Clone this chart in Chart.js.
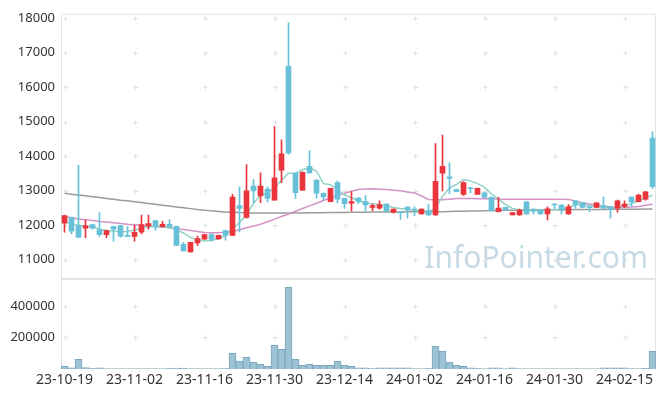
<!DOCTYPE html>
<html>
<head>
<meta charset="utf-8">
<script src="https://cdn.jsdelivr.net/npm/chart.js@4.4.1/dist/chart.umd.min.js"></script>
<style>
  html, body { margin: 0; padding: 0; background: #fff; }
  #wrap { position: relative; width: 665px; height: 397px; }
  #wrap canvas { position: absolute; left: 0; top: 0; }
</style>
</head>
<body>
<div id="wrap">
  <canvas id="price" width="665" height="397"></canvas>
  <canvas id="volume" width="665" height="397"></canvas>
</div>
<script>
const dates = [
  "23-10-19","23-10-20","23-10-23","23-10-24","23-10-25","23-10-26","23-10-27","23-10-30","23-10-31","23-11-01",
  "23-11-02","23-11-03","23-11-06","23-11-07","23-11-08","23-11-09","23-11-10","23-11-13","23-11-14","23-11-15",
  "23-11-16","23-11-17","23-11-20","23-11-21","23-11-22","23-11-23","23-11-24","23-11-27","23-11-28","23-11-29",
  "23-11-30","23-12-01","23-12-04","23-12-05","23-12-06","23-12-07","23-12-08","23-12-11","23-12-12","23-12-13",
  "23-12-14","23-12-15","23-12-18","23-12-19","23-12-20","23-12-21","23-12-22","23-12-26","23-12-27","23-12-28",
  "24-01-02","24-01-03","24-01-04","24-01-05","24-01-08","24-01-09","24-01-10","24-01-11","24-01-12","24-01-15",
  "24-01-16","24-01-17","24-01-18","24-01-19","24-01-22","24-01-23","24-01-24","24-01-25","24-01-26","24-01-29",
  "24-01-30","24-01-31","24-02-01","24-02-02","24-02-05","24-02-06","24-02-07","24-02-08","24-02-13","24-02-14",
  "24-02-15","24-02-16","24-02-19","24-02-20","24-02-21"
];

const opens = [
  12050,12220,11980,11910,12010,11860,11720,11955,11980,11690,
  11670,11790,11975,12130,11950,12020,11960,11440,11220,11480,
  11590,11725,11600,11840,11700,12560,12220,13130,12845,13040,
  12720,13590,16600,13500,13010,13700,13300,12920,12680,13230,
  12770,12635,12780,12680,12510,12490,12610,12370,12380,12520,
  12460,12320,12410,12290,13500,13400,13030,12890,13080,12890,
  12930,12800,12390,12510,12290,12290,12670,12460,12440,12320,
  12600,12580,12320,12700,12650,12530,12510,12560,12530,12490,
  12540,12810,12680,12750,14520
];
const highs = [
  12280,12230,13730,12150,12030,12360,11850,11960,11990,11955,
  11990,12290,12290,12130,12110,12160,11970,11500,11500,11680,
  11740,11750,11710,11850,12890,13110,13750,13320,13510,13110,
  14850,14470,17860,13510,13540,14150,13320,12930,13070,13280,
  12780,12970,12800,12850,12610,12700,12620,12470,12400,12530,
  12530,12470,12600,14360,14610,13800,13040,13260,13090,13070,
  12940,12810,12800,12520,12360,12460,12680,12470,12450,12530,
  12620,12590,12590,12710,12660,12540,12650,12810,12540,12720,
  12700,12820,12900,12980,14710
];
const lows = [
  11790,11750,11630,11630,11880,11670,11630,11530,11650,11660,
  11530,11745,11880,11850,11940,11920,11400,11240,11210,11410,
  11580,11530,11590,11560,11700,11800,12200,12650,12650,12670,
  12720,13230,14050,12770,13000,13500,12770,12720,12670,12640,
  12480,12410,12620,12400,12415,12460,12370,12340,12160,12200,
  12270,12310,12280,12280,12990,12910,12960,12860,12940,12880,
  12790,12400,12380,12430,12290,12280,12310,12320,12310,12150,
  12480,12320,12310,12490,12500,12390,12500,12470,12200,12370,
  12500,12530,12670,12720,13060
];
const closes = [
  12270,11820,11650,11975,11910,11720,11840,11880,11680,11670,
  11790,12010,12040,11970,12020,11950,11410,11250,11495,11610,
  11725,11580,11700,11700,12810,12480,12990,12990,13130,12770,
  13370,14060,14090,12940,13530,13510,12920,12815,13065,12750,
  12620,12680,12680,12580,12560,12590,12410,12460,12350,12440,
  12435,12460,12290,13270,13700,13350,12970,13230,13050,13060,
  12800,12410,12490,12440,12360,12430,12320,12410,12320,12470,
  12580,12430,12530,12600,12510,12500,12640,12490,12460,12700,
  12610,12670,12870,12960,13110
];

const ma5 = [
  12100,12040,11990,11970,11950,11880,11840,11830,11800,11820,
  11850,11910,11950,11960,11950,11920,11860,11770,11640,11570,
  11535,11550,11610,11700,11880,12070,12300,12620,12880,12930,
  13080,13300,13500,13500,13600,13660,13560,13200,13170,13020,
  12870,12790,12710,12640,12620,12590,12550,12510,12480,12455,
  12430,12410,12390,12490,12830,13070,13180,13320,13280,13200,
  13090,12900,12750,12590,12480,12440,12410,12410,12410,12430,
  12450,12460,12510,12580,12600,12560,12540,12530,12490,12500,
  12550,12620,12700,12780,12870
];
const ma20 = [
  12250,12210,12175,12150,12130,12105,12085,12065,12045,12025,
  12010,11995,11980,11960,11945,11920,11895,11870,11840,11810,
  11780,11775,11775,11790,11810,11860,11920,11970,12020,12095,
  12170,12245,12320,12400,12480,12555,12630,12710,12790,12860,
  12920,12980,13030,13045,13050,13040,13030,13010,12990,12960,
  12930,12840,12740,12730,12730,12750,12770,12770,12770,12765,
  12760,12755,12750,12750,12750,12750,12750,12750,12750,12750,
  12750,12750,12740,12700,12640,12610,12580,12550,12520,12510,
  12510,12520,12540,12570,12600
];
const ma60 = [
  12920,12895,12870,12845,12820,12795,12770,12745,12720,12700,
  12675,12650,12625,12600,12575,12550,12525,12500,12475,12450,
  12430,12410,12395,12380,12370,12360,12355,12350,12350,12350,
  12350,12350,12350,12350,12350,12355,12355,12358,12360,12362,
  12365,12368,12370,12372,12375,12376,12378,12380,12380,12382,
  12383,12384,12385,12386,12388,12392,12396,12400,12404,12408,
  12412,12418,12422,12426,12430,12432,12434,12436,12438,12440,
  12442,12444,12446,12448,12450,12451,12452,12453,12454,12455,
  12456,12458,12460,12462,12464
];

const volumes = [
  19000,8000,61000,9000,2000,7000,1500,1000,1200,1000,
  1500,1000,1200,1000,1500,2000,6000,6000,1500,1000,
  1200,1500,1000,2000,99000,50000,74000,42000,30000,17000,
  150000,125000,517000,61000,23000,30000,23000,23000,23000,49000,
  25000,17000,8000,8000,2000,8000,8000,8000,8000,8000,
  1500,1500,2000,143000,114000,44000,23000,17000,8000,2000,
  1500,8000,8000,1500,8000,1500,1500,1200,1000,1500,
  1200,1000,1500,1200,1000,1500,1200,8000,8000,8000,
  8000,1500,1500,5000,112000
];

const priceTicks = [11000, 12000, 13000, 14000, 15000, 16000, 17000, 18000];
const volumeTicks = [200000, 400000];

const upColor = "#e9353b";
const downColor = "#67c1d8";
const candleColors = closes.map((c, i) => c >= opens[i] ? upColor : downColor);

const tickFont = { family: '"Noto Sans", sans-serif', size: 13 };

// small "+" marks at grid crossings, the panel frame, optional watermark
function framePlugin(withMark) {
  return {
    id: "frame",
    beforeDatasetsDraw(chart) {
      const ctx = chart.ctx;
      const a = chart.chartArea;
      const xs = chart.scales.x, ys = chart.scales.y;
      ctx.save();
      if (withMark) {
        ctx.font = '30px "Noto Sans"';
        ctx.fillStyle = "#c6dae6";
        ctx.textAlign = "right";
        ctx.textBaseline = "alphabetic";
        ctx.fillText("InfoPointer.com", 648, 268);
      }
      ctx.strokeStyle = "#e2e2e2";
      ctx.lineWidth = 1;
      ctx.beginPath();
      for (let i = 0; i < dates.length; i += 10) {
        const cx = Math.round(xs.getPixelForValue(i)) + 0.5;
        ys.ticks.forEach(t => {
          const cy = Math.round(ys.getPixelForValue(t.value)) + 0.5;
          ctx.moveTo(cx - 2.5, cy); ctx.lineTo(cx + 2.5, cy);
          ctx.moveTo(cx, cy - 2.5); ctx.lineTo(cx, cy + 2.5);
        });
      }
      ctx.stroke();
      ctx.strokeStyle = "#e3e3e3";
      ctx.strokeRect(a.left + 0.5, a.top + 0.5, a.width - 1, a.height - 1);
      ctx.restore();
    }
  };
}

new Chart(document.getElementById("price"), {
  type: "bar",
  plugins: [framePlugin(true)],
  data: {
    labels: dates,
    datasets: [
      { type: "line", data: ma5, order: 2, borderColor: "#8fd1c6", borderWidth: 1.5, pointRadius: 0 },
      { type: "line", data: ma20, order: 2, borderColor: "#d393c6", borderWidth: 1.5, pointRadius: 0 },
      { type: "line", data: ma60, order: 2, borderColor: "#9a9a9a", borderWidth: 1.5, pointRadius: 0 },
      {
        data: lows.map((l, i) => [l, highs[i]]), order: 1,
        backgroundColor: candleColors, barThickness: 1, grouped: false
      },
      {
        data: opens.map((o, i) => [o, closes[i]]), order: 0,
        backgroundColor: candleColors, barThickness: 5, grouped: false, minBarLength: 1
      }
    ]
  },
  options: {
    responsive: false,
    animation: false,
    layout: { padding: { top: 11, right: 9, left: 0, bottom: 118 } },
    plugins: { legend: { display: false }, tooltip: { enabled: false } },
    scales: {
      x: {
        type: "category", offset: true, display: true,
        grid: { display: false, drawTicks: false },
        border: { display: false },
        ticks: { display: false },
        afterFit: s => { s.height = 0; }
      },
      y: {
        min: 10435, max: 18123,
        grid: { display: false, drawTicks: false },
        border: { display: false },
        afterBuildTicks: s => { s.ticks = priceTicks.map(v => ({ value: v })); },
        ticks: { padding: 6, color: "#333", font: tickFont, callback: v => String(v) },
        afterFit: s => { s.width = 61; }
      }
    }
  }
});

new Chart(document.getElementById("volume"), {
  type: "bar",
  plugins: [framePlugin(false)],
  data: {
    labels: dates,
    datasets: [
      {
        data: volumes,
        backgroundColor: "#9cc2d3", borderColor: "#7aa9be", borderWidth: 1,
        barPercentage: 1, categoryPercentage: 1
      }
    ]
  },
  options: {
    responsive: false,
    animation: false,
    layout: { padding: { top: 279, right: 9, left: 0, bottom: 0 } },
    plugins: { legend: { display: false }, tooltip: { enabled: false } },
    scales: {
      x: {
        type: "category", offset: true,
        grid: { display: false, drawTicks: false },
        border: { display: false },
        ticks: {
          autoSkip: false, maxRotation: 0, padding: 3,
          color: "#333", font: { family: '"Noto Sans", sans-serif', size: 14 },
          callback: (v, i) => (i % 10 === 0 ? dates[i] : "")
        },
        afterFit: s => { s.height = 28; }
      },
      y: {
        min: 0, max: 570000,
        grid: { display: false, drawTicks: false },
        border: { display: false },
        afterBuildTicks: s => { s.ticks = volumeTicks.map(v => ({ value: v })); },
        ticks: { padding: 6, color: "#333", font: tickFont, callback: v => String(v) },
        afterFit: s => { s.width = 61; }
      }
    }
  }
});
</script>
</body>
</html>
